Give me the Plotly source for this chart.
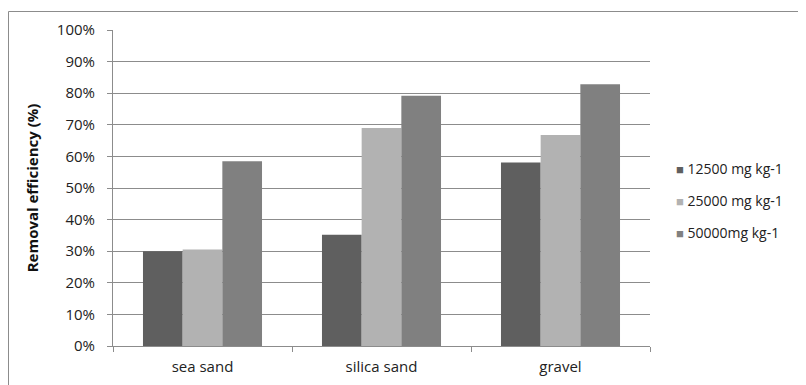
import plotly.graph_objects as go

categories = ["sea sand", "silica sand", "gravel"]
series_names = ["12500 mg kg-1", "25000 mg kg-1", "50000mg kg-1"]
s12500 = [0.30, 0.352, 0.581]
s25000 = [0.305, 0.69, 0.668]
s50000 = [0.585, 0.792, 0.828]
y_ticks = [0, 0.1, 0.2, 0.3, 0.4, 0.5, 0.6, 0.7, 0.8, 0.9, 1.0]

colors = ["#5f5f5f", "#b2b2b2", "#808080"]
FONT = "Open Sans"

fig = go.Figure()
for name, vals, col in zip(series_names, [s12500, s25000, s50000], colors):
    fig.add_trace(go.Bar(x=categories, y=vals, name=name, marker_color=col,
                         marker_line_width=0, showlegend=False))

# page body has an 8px margin, so the figure is offset by 8px
OFF = 8
W, H = 806 - OFF, 385 - OFF
ml, mr, mt, mb = 113 - OFF, 156, 30 - OFF, 39
pw = W - ml - mr
ph = H - mt - mb

def px_to_paper_x(px):
    return (px - OFF - ml) / pw

def px_to_paper_y(py):
    return (H - mb - (py - OFF)) / ph

# legend drawn as text entries
for name, col, ypx in zip(series_names, colors, [168, 200, 232]):
    fig.add_annotation(xref="paper", yref="paper",
                       x=px_to_paper_x(674), y=px_to_paper_y(ypx),
                       xanchor="left", yanchor="middle", showarrow=False,
                       text=f"<span style='color:{col};font-size:13px'>■</span> {name}",
                       font=dict(family=FONT, size=14, color="#222222"))

fig.update_layout(
    width=W, height=H,
    margin=dict(l=ml, r=mr, t=mt, b=mb),
    paper_bgcolor="white", plot_bgcolor="white",
    barmode="group", bargap=0.335, bargroupgap=0,
    font=dict(family=FONT, size=15, color="#222222"),
    xaxis=dict(showline=True, linecolor="#8c8c8c", linewidth=1,
               ticks="outside", ticklen=5, tickcolor="#8c8c8c",
               tickson="boundaries", showgrid=False, automargin=False,
               tickfont=dict(family=FONT, size=15, color="#222222"),
               ticklabelstandoff=7),
    yaxis=dict(range=[0, 1], tickvals=y_ticks, tickformat=".0%",
               showline=True, linecolor="#8c8c8c", linewidth=1,
               ticks="outside", ticklen=5, tickcolor="#8c8c8c",
               showgrid=True, gridcolor="#8c8c8c", gridwidth=1,
               zeroline=False, automargin=False,
               tickfont=dict(family=FONT, size=15, color="#222222"),
               ticklabelstandoff=9,
               title=dict(text="<b>Removal efficiency (%)</b>",
                          font=dict(family=FONT, size=15, color="#111111"),
                          standoff=14)),
    showlegend=False,
)

fig.add_shape(type="rect", xref="paper", yref="paper",
              x0=px_to_paper_x(8.5), x1=px_to_paper_x(900),
              y0=px_to_paper_y(500), y1=px_to_paper_y(11.5),
              line=dict(color="#8c8c8c", width=1), fillcolor="rgba(0,0,0,0)",
              layer="below")

fig.write_html("out.html")
